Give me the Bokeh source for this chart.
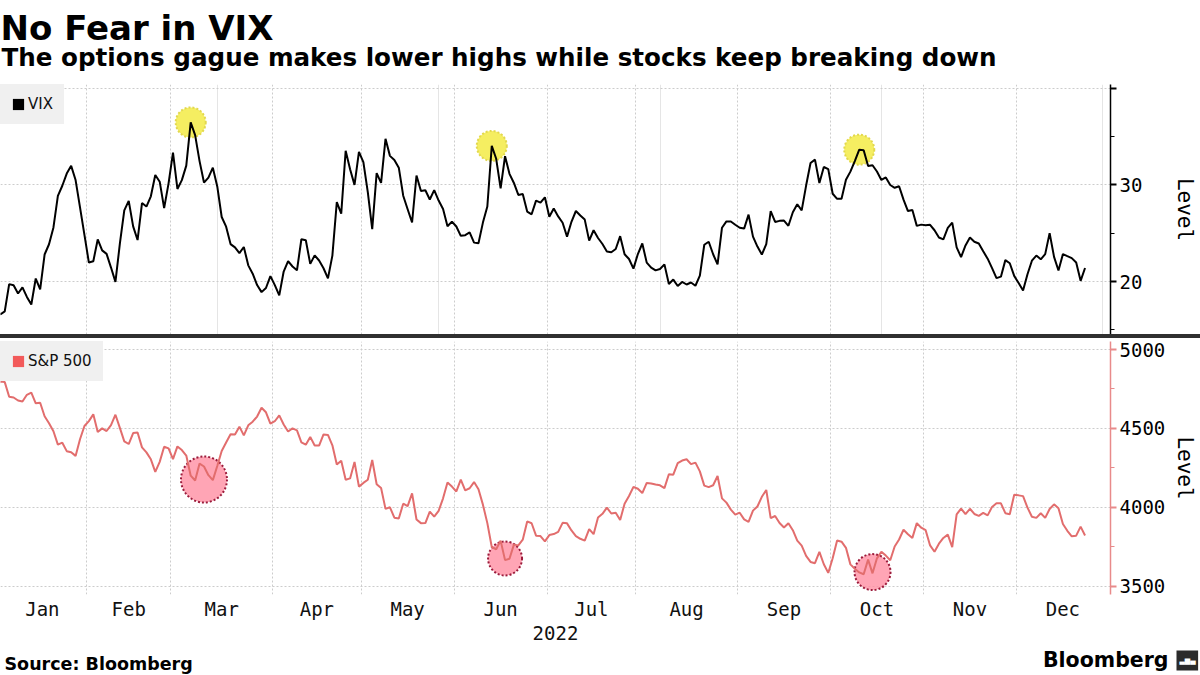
import pandas as pd
from bokeh.plotting import figure
from bokeh.models import (ColumnDataSource, FixedTicker, Grid, Label, Legend,
                          LegendItem, Range1d, Div)
from bokeh.layouts import column
from bokeh.embed import file_html
from bokeh.resources import INLINE

# ---------------- data (daily closes) ----------------
HOLIDAYS = ["2022-01-17", "2022-02-21", "2022-04-15", "2022-05-30", "2022-06-20",
            "2022-07-04", "2022-09-05", "2022-11-24", "2022-12-26"]
MONTHS = ["Jan", "Feb", "Mar", "Apr", "May", "Jun", "Jul", "Aug", "Sep", "Oct", "Nov", "Dec"]

VIX_DEC21 = [17.22]
VIX_JAN = [16.60, 16.91, 19.73, 19.61, 18.76, 19.40, 18.41, 17.62, 20.31, 19.19,
           22.79, 23.85, 25.59, 28.85, 29.90, 31.16, 31.96, 30.49, 27.66, 24.83]
VIX_FEB = [21.96, 22.09, 24.35, 23.22, 22.86, 21.44, 19.96, 23.91, 27.36, 28.33,
           25.70, 24.29, 28.11, 27.75, 28.81, 31.02, 30.32, 27.59, 30.15]
VIX_MAR = [33.32, 29.57, 30.48, 31.98, 36.45, 35.13, 32.45, 30.23, 30.75, 31.77,
           29.83, 26.67, 25.67, 23.87, 23.53, 22.94, 23.57, 21.67, 20.81, 19.63,
           18.90, 19.33, 20.56]
VIX_APR = [19.63, 18.57, 21.03, 22.10, 21.55, 21.16, 24.37, 24.26, 21.82, 22.70,
           22.17, 21.37, 20.32, 22.68, 28.21, 27.02, 33.52, 31.60, 29.99, 33.40]
VIX_MAY = [32.34, 29.25, 25.42, 31.20, 30.19, 34.75, 32.99, 32.56, 31.77, 28.87,
           27.47, 26.10, 30.96, 29.35, 29.43, 28.48, 29.45, 28.37, 27.50, 25.72, 26.19]
VIX_JUN = [25.69, 24.72, 24.79, 25.07, 24.02, 23.96, 26.09, 27.75, 34.02, 32.69,
           29.62, 32.95, 31.13, 30.19, 28.95, 29.05, 27.23, 26.95, 28.36, 28.16, 28.71]
VIX_JUL = [26.70, 27.54, 26.73, 26.08, 24.64, 26.17, 27.29, 26.82, 26.40, 24.23,
           25.30, 24.50, 23.88, 23.11, 23.03, 23.36, 24.69, 22.82, 22.33, 21.33]
VIX_AUG = [22.84, 23.93, 21.95, 21.44, 21.15, 21.29, 21.77, 19.74, 20.20, 19.53,
           19.95, 19.69, 19.90, 19.56, 20.60, 23.80, 24.11, 22.82, 21.78, 25.56,
           26.21, 26.21, 25.87]
VIX_SEP = [25.56, 25.47, 26.91, 24.64, 23.61, 22.79, 23.87, 27.27, 26.16, 26.27,
           26.30, 25.76, 27.16, 27.99, 27.35, 29.92, 32.26, 32.60, 30.18, 31.84, 31.62]
VIX_OCT = [29.07, 28.55, 28.55, 30.52, 31.36, 32.45, 33.63, 33.57, 31.94, 32.02,
           31.37, 30.50, 30.76, 29.98, 29.69, 29.85, 28.46, 27.28, 27.39, 25.75, 25.88]
VIX_NOV = [25.81, 25.86, 25.30, 24.55, 24.35, 25.54, 26.09, 23.53, 22.52, 23.73,
           24.54, 24.11, 23.93, 23.12, 22.36, 21.39, 20.35, 20.50, 22.21, 21.89, 20.58]
VIX_DEC = [19.84, 19.06, 20.75, 22.15, 22.68, 22.29, 22.83, 25.00, 22.55, 21.14,
           22.83, 22.62, 22.42, 21.97, 20.07, 21.40]

SPX_DEC21 = [4766.18]
SPX_JAN = [4796.56, 4793.54, 4700.58, 4696.05, 4677.03, 4670.29, 4713.07, 4726.35,
           4659.03, 4662.85, 4577.11, 4532.76, 4482.73, 4397.94, 4410.13, 4356.45,
           4349.93, 4326.51, 4431.85, 4515.55]
SPX_FEB = [4546.54, 4589.38, 4477.44, 4500.53, 4483.87, 4521.54, 4587.18, 4504.08,
           4418.64, 4401.67, 4471.07, 4475.01, 4380.26, 4348.87, 4304.76, 4225.50,
           4288.70, 4384.65, 4373.94]
SPX_MAR = [4306.26, 4386.54, 4363.49, 4328.87, 4201.09, 4170.70, 4277.88, 4259.52,
           4204.31, 4173.11, 4262.45, 4357.86, 4411.67, 4463.12, 4461.18, 4511.61,
           4456.24, 4520.16, 4543.06, 4575.52, 4631.60, 4602.45, 4530.41]
SPX_APR = [4545.86, 4582.64, 4525.12, 4481.15, 4500.21, 4488.28, 4412.53, 4397.45,
           4446.59, 4392.59, 4391.69, 4462.21, 4459.45, 4393.66, 4271.78, 4296.12,
           4175.20, 4183.96, 4287.50, 4131.93]
SPX_MAY = [4155.38, 4175.48, 4300.17, 4146.87, 4123.34, 3991.24, 4001.05, 3935.18,
           3930.08, 4023.89, 4008.01, 4088.85, 3923.68, 3900.79, 3901.36, 3973.75,
           3941.48, 3978.73, 4057.84, 4158.24, 4132.15]
SPX_JUN = [4101.23, 4176.82, 4108.54, 4121.43, 4160.68, 4115.77, 4017.82, 3900.86,
           3749.63, 3735.48, 3789.99, 3666.77, 3674.84, 3764.79, 3759.89, 3795.73,
           3911.74, 3900.11, 3821.55, 3818.83, 3785.38]
SPX_JUL = [3825.33, 3831.39, 3845.08, 3902.62, 3899.38, 3854.43, 3818.80, 3801.78,
           3790.38, 3863.16, 3830.85, 3936.69, 3959.90, 3998.95, 3961.63, 3966.84,
           3921.05, 4023.61, 4072.43, 4130.29]
SPX_AUG = [4118.63, 4091.19, 4155.17, 4151.94, 4145.19, 4140.06, 4122.47, 4210.24,
           4207.27, 4280.15, 4297.14, 4305.20, 4274.04, 4283.74, 4228.48, 4137.99,
           4128.73, 4140.77, 4199.12, 4057.66, 4030.61, 3986.16, 3955.00]
SPX_SEP = [3966.85, 3924.26, 3908.19, 3979.87, 4006.18, 4067.36, 4110.41, 3932.69,
           3946.01, 3901.35, 3873.33, 3899.89, 3855.93, 3789.93, 3757.99, 3693.23,
           3655.04, 3647.29, 3719.04, 3640.47, 3585.62]
SPX_OCT = [3678.43, 3790.93, 3783.28, 3744.52, 3639.66, 3612.39, 3588.84, 3577.03,
           3669.91, 3583.07, 3677.95, 3719.98, 3695.16, 3665.78, 3752.75, 3797.34,
           3859.11, 3830.60, 3807.30, 3901.06, 3871.98]
SPX_NOV = [3856.10, 3759.69, 3719.89, 3770.55, 3806.80, 3828.11, 3748.57, 3956.37,
           3992.93, 3957.25, 3991.73, 3958.79, 3946.56, 3965.34, 3949.94, 4003.58,
           4027.26, 4026.12, 3963.94, 3957.63, 4080.11]
SPX_DEC = [4076.57, 4071.70, 3998.84, 3941.26, 3933.92, 3963.51, 3934.38, 3990.56,
           4019.65, 3995.32, 3895.75, 3852.36, 3817.66, 3821.62, 3878.44, 3822.39]

VIX_PEAK_DATES = ["2022-03-07", "2022-06-13", "2022-10-11"]
SPX_LOW_DATES = ["2022-03-10", "2022-06-16", "2022-10-14"]
SPX_LOW_LEVELS = [4177, 3677, 3591]

TITLE = "No Fear in VIX"
SUBTITLE = "The options gague makes lower highs while stocks keep breaking down"
SOURCE = "Source: Bloomberg"

# ---------------- styles ----------------
SPX_MARK_SIZES = [46, 34, 36]
VIX_MARK_SIZE = 30
W = 1200
RIGHT = 90
GRID = "#cccccc"
SPX_LINE = "#e26d6d"
SPX_AXIS = "#e88a8a"
LEGEND_BG = "#f0f0f0"
MONO = "DejaVu Sans Mono"
SANS = "DejaVu Sans"
NAN = float("nan")

vix = (VIX_DEC21 + VIX_JAN + VIX_FEB + VIX_MAR + VIX_APR + VIX_MAY + VIX_JUN +
       VIX_JUL + VIX_AUG + VIX_SEP + VIX_OCT + VIX_NOV + VIX_DEC)
spx = (SPX_DEC21 + SPX_JAN + SPX_FEB + SPX_MAR + SPX_APR + SPX_MAY + SPX_JUN +
       SPX_JUL + SPX_AUG + SPX_SEP + SPX_OCT + SPX_NOV + SPX_DEC)

# trading-day calendar -> x position is the trading-day index
cal = pd.bdate_range("2021-12-31", "2022-12-30", freq="C", holidays=HOLIDAYS)
pos = {d.strftime("%Y-%m-%d"): i for i, d in enumerate(cal)}
first_idx = {}
for i, d in enumerate(cal):
    if d.year == 2022 and d.month not in first_idx:
        first_idx[d.month] = i
edges = [first_idx[m] - 0.5 for m in range(1, 13)] + [len(cal) - 0.5]
bounds = edges[1:-1]
mids = [(edges[k] + edges[k + 1]) / 2 for k in range(12)]

src_vix = ColumnDataSource(dict(x=list(range(len(vix))), y=vix))
src_spx = ColumnDataSource(dict(x=list(range(len(spx))), y=spx))
vix_pk = ColumnDataSource(dict(x=[pos[d] for d in VIX_PEAK_DATES],
                               y=[vix[pos[d]] for d in VIX_PEAK_DATES]))
spx_lo = ColumnDataSource(dict(x=[pos[d] for d in SPX_LOW_DATES], y=SPX_LOW_LEVELS,
                               s=SPX_MARK_SIZES))

x_range = Range1d(1.04, 251.75)


def text_figure(height):
    f = figure(width=W, height=height, x_range=Range1d(0, 1), y_range=Range1d(0, 1),
               x_axis_location=None, y_axis_location=None, toolbar_location=None,
               output_backend="svg", min_border=0, outline_line_color=None,
               background_fill_color="white", border_fill_color="white")
    f.grid.visible = False
    return f


def text_label(x, y, text, size, bold=True, align="left", color="#000000", font=SANS):
    return Label(x=x, y=y, x_units="screen", y_units="screen", text=text,
                 text_font=font, text_font_style="bold" if bold else "normal",
                 text_font_size=size, text_color=color, text_align=align,
                 text_baseline="middle")


def style_yaxis(ax, line_color, standoff):
    ax.axis_line_color = line_color
    ax.axis_line_width = 1.5
    ax.major_tick_line_color = line_color
    ax.minor_tick_line_color = line_color
    ax.major_tick_line_width = 2
    ax.major_tick_out = 6
    ax.major_tick_in = 0
    ax.minor_tick_out = 4
    ax.minor_tick_in = 0
    ax.major_label_text_font = MONO
    ax.major_label_text_font_size = "19px"
    ax.major_label_text_color = "#000000"
    ax.major_label_standoff = 3
    ax.axis_label = "Level"
    ax.axis_label_text_font = MONO
    ax.axis_label_text_font_size = "21px"
    ax.axis_label_text_font_style = "normal"
    ax.axis_label_text_color = "#000000"
    ax.axis_label_standoff = standoff


def legend_for(p, renderer, text):
    leg = Legend(items=[LegendItem(label=text, renderers=[renderer])],
                 location="top_left", margin=0, padding=10, spacing=0,
                 glyph_width=14, glyph_height=14, label_standoff=3, label_height=17,
                 label_text_font=SANS, label_text_font_size="15px",
                 label_text_color="#111111",
                 background_fill_color=LEGEND_BG, background_fill_alpha=1.0,
                 border_line_color=LEGEND_BG, border_line_width=1)
    p.add_layout(leg)


# ---------------- title block (page y 0..84) ----------------
ptitle = text_figure(84)
ptitle.add_layout(text_label(0, 56.3, TITLE, "34px"))
ptitle.add_layout(text_label(1, 27.0, SUBTITLE, "24.6px"))

# ---------------- top panel: VIX ----------------
p1 = figure(width=W, height=250, x_range=x_range, y_range=Range1d(14.52, 40.37),
            x_axis_location=None, y_axis_location="right",
            toolbar_location=None, output_backend="svg",
            min_border_left=0, min_border_right=RIGHT, min_border_top=0, min_border_bottom=0,
            outline_line_color=None, background_fill_color="white", border_fill_color="white")
ax1 = p1.yaxis[0]
ax1.ticker = FixedTicker(ticks=[20, 30, 40], minor_ticks=[15, 25, 35])
ax1.major_label_overrides = {40: ""}
style_yaxis(ax1, "#000000", 28)
p1.ygrid.grid_line_color = GRID
p1.ygrid.grid_line_dash = "2 2"
p1.add_layout(Grid(dimension=0, ticker=FixedTicker(ticks=bounds),
                   grid_line_color=GRID, grid_line_dash="2 2"))

p1.scatter(x="x", y="y", source=vix_pk, size=VIX_MARK_SIZE, fill_color="#f2ea3a",
           fill_alpha=0.8, line_color="#e2d84e", line_dash="2 2", line_width=2)
p1.line(x="x", y="y", source=src_vix, line_color="#000000", line_width=2)
sq1 = p1.quad(left=[NAN], right=[NAN], top=[NAN], bottom=[NAN],
              fill_color="#000000", line_color=None)
legend_for(p1, sq1, "VIX")

# ---------------- divider ----------------
divider = Div(text='<div style="margin-left:593px;width:16px;height:1px;'
                   'border-top:1px solid #a0a0a0;border-bottom:1px solid #a0a0a0;"></div>',
              width=W, height=4, margin=(0, 0, 0, 0),
              styles={"background-color": "#303030", "overflow": "hidden"})

# ---------------- bottom panel: S&P 500 ----------------
p2 = figure(width=W, height=310, x_range=x_range, y_range=Range1d(3449, 5050.6),
            x_axis_location="below", y_axis_location="right",
            toolbar_location=None, output_backend="svg",
            min_border_left=0, min_border_right=RIGHT, min_border_top=3, min_border_bottom=54,
            outline_line_color=None, background_fill_color="white", border_fill_color="white")
ax2 = p2.yaxis[0]
ax2.ticker = FixedTicker(ticks=[3500, 4000, 4500, 5000], minor_ticks=[3750, 4250, 4750])
style_yaxis(ax2, SPX_AXIS, 5)
p2.ygrid.grid_line_color = GRID
p2.ygrid.grid_line_dash = "2 2"
p2.xgrid.visible = False
p2.add_layout(Grid(dimension=0, ticker=FixedTicker(ticks=bounds),
                   grid_line_color=GRID, grid_line_dash="2 2"))

xa = p2.xaxis[0]
xa.ticker = FixedTicker(ticks=mids, minor_ticks=[])
xa.major_label_overrides = {m: name for m, name in zip(mids, MONTHS)}
xa.axis_line_color = None
xa.major_tick_line_color = None
xa.minor_tick_line_color = None
xa.major_tick_out = 0
xa.major_tick_in = 0
xa.minor_tick_out = 0
xa.major_label_standoff = 3
xa.major_label_text_font = MONO
xa.major_label_text_font_size = "19px"
xa.major_label_text_color = "#111111"
xa.axis_label = "2022"
xa.axis_label_text_font = MONO
xa.axis_label_text_font_size = "19px"
xa.axis_label_text_font_style = "normal"
xa.axis_label_text_color = "#111111"
xa.axis_label_standoff = 3

p2.scatter(x="x", y="y", source=spx_lo, size="s", fill_color="#ff8fa3", fill_alpha=0.8,
           line_color="#9b1b3b", line_dash="2 2", line_width=2)
p2.line(x="x", y="y", source=src_spx, line_color=SPX_LINE, line_width=2)
sq2 = p2.quad(left=[NAN], right=[NAN], top=[NAN], bottom=[NAN],
              fill_color="#f25a5a", line_color=None)
legend_for(p2, sq2, "S&P 500")

# ---------------- footer (page y 648..675) ----------------
pfoot = text_figure(27)
pfoot.add_layout(text_label(4, 11.6, SOURCE, "17.5px"))
pfoot.add_layout(text_label(1168, 15.6, "Bloomberg", "20.5px", align="right"))
icon = Label(x=1176, y=15, x_units="screen", y_units="screen",
             text="\u00a0\u00a0\u00a0\u00a0", text_font=SANS, text_font_size="17px",
             text_color="#2b2b2b", background_fill_color="#2b2b2b",
             text_baseline="middle")
pfoot.add_layout(icon)
pfoot.add_layout(Label(x=1187, y=15, x_units="screen", y_units="screen",
                       text="\u2583\u2586\u2584", text_font=SANS, text_font_size="7px",
                       text_color="#ffffff", text_align="center", text_baseline="middle"))

charts = column(ptitle, p1, divider, p2)
layout = column(charts, pfoot)
open("out.html", "w").write(file_html(layout, INLINE))
